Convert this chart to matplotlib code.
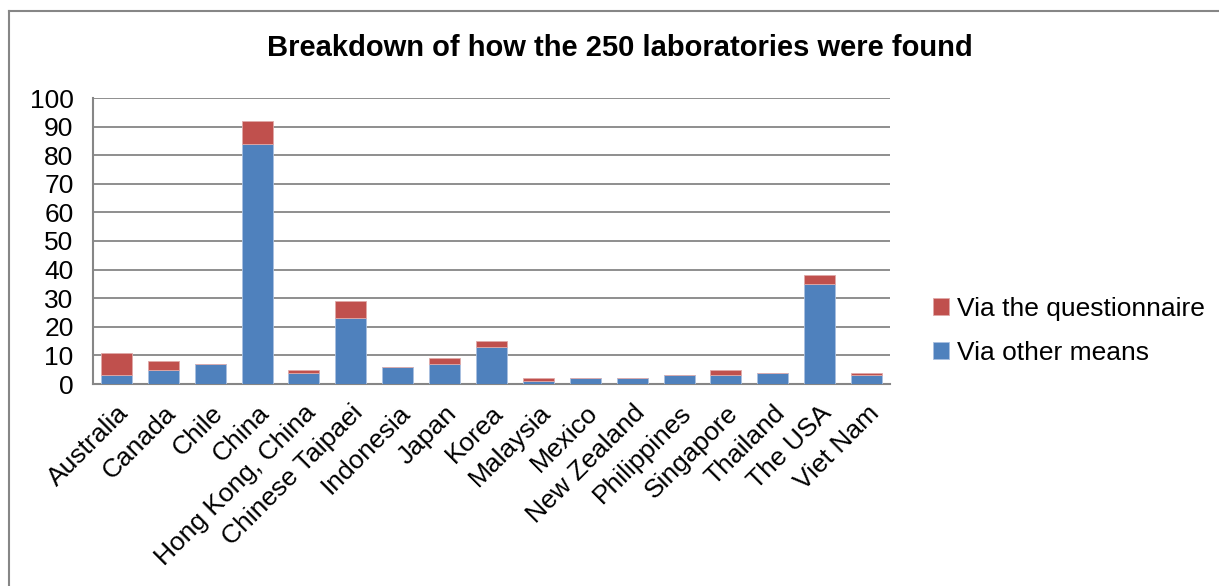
#!/usr/bin/env python3
"""Stacked bar chart: how the 250 laboratories were found."""
import numpy as np
import matplotlib.pyplot as plt
from matplotlib.lines import Line2D

economies = ['Australia', 'Canada', 'Chile', 'China', 'Hong Kong, China',
             'Chinese Taipaei', 'Indonesia', 'Japan', 'Korea', 'Malaysia',
             'Mexico', 'New Zealand', 'Philippines', 'Singapore', 'Thailand',
             'The USA', 'Viet Nam']
other_means = [3, 5, 7, 84, 4, 23, 6, 7, 13, 1, 2, 2, 3, 3, 4, 35, 3]
questionnaire = [8, 3, 0, 8, 1, 6, 0, 2, 2, 1, 0, 0, 0, 2, 0, 3, 1]
y_ticks = [0, 10, 20, 30, 40, 50, 60, 70, 80, 90, 100]

plt.rcParams['font.family'] = ['Liberation Sans', 'DejaVu Sans']

fig = plt.figure(figsize=(12.19, 5.86), dpi=100)
ax = fig.add_axes([93 / 1219, 1 - 384 / 586, (890 - 93) / 1219, (384 - 98) / 586])

x = np.arange(len(economies))
blue = '#4F81BD'
red = '#C0504D'
ax.bar(x, other_means, width=0.66, color=blue, edgecolor='#a9c0e0',
       linewidth=0.6, label='Via other means', zorder=3)
ax.bar(x, questionnaire, width=0.66, bottom=other_means, color=red,
       edgecolor='#e0a9a8', linewidth=0.6, label='Via the questionnaire',
       zorder=3)

ax.set_xlim(-0.5, len(economies) - 0.5)
ax.set_ylim(0, 100)
ax.set_yticks(y_ticks)
ax.set_yticklabels([str(v) for v in y_ticks], fontsize=19)
ax.set_xticks(x)
ax.set_xticklabels(economies, rotation=45, ha='right', rotation_mode='anchor',
                   fontsize=19)
ax.tick_params(length=0, pad=14)
ax.tick_params(axis='x', pad=12)
ax.grid(axis='y', color='#868686', linewidth=1.3, zorder=0)
for side in ['top', 'right']:
    ax.spines[side].set_visible(False)
for side in ['left', 'bottom']:
    ax.spines[side].set_color('#868686')
    ax.spines[side].set_linewidth(1.5)

fig.text(620 / 1219, 1 - 48 / 586,
         'Breakdown of how the 250 laboratories were found',
         ha='center', va='center', fontsize=21, fontweight='bold')

handles, labels = ax.get_legend_handles_labels()
ax.legend(handles[::-1], labels[::-1], loc='center left',
          bbox_to_anchor=(933 / 1219, 1 - 331 / 586),
          bbox_transform=fig.transFigure, frameon=False, fontsize=19,
          handlelength=0.6, handleheight=0.6, handletextpad=0.3,
          labelspacing=0.75, borderpad=0, borderaxespad=0)

# outer chart frame
fig.add_artist(Line2D([9 / 1219, 1218 / 1219], [1 - 11 / 586] * 2,
                      color='#868686', linewidth=1.5))
fig.add_artist(Line2D([9 / 1219] * 2, [0, 1 - 11 / 586],
                      color='#868686', linewidth=1.5))

fig.savefig('out.png', dpi=100)
